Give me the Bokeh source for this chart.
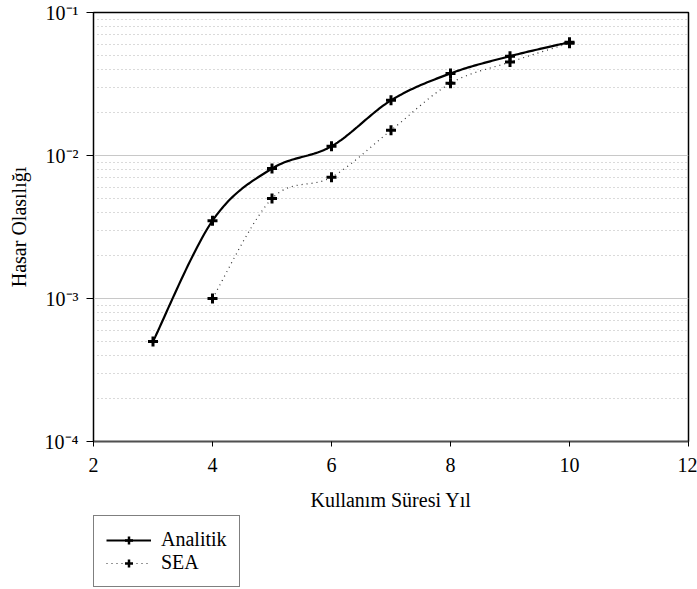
import numpy as np
from bokeh.plotting import figure
from bokeh.layouts import column
from bokeh.models import FixedTicker, Legend, LegendItem, Range1d, CustomJSTickFormatter
from bokeh.embed import file_html
from bokeh.resources import INLINE

# ---- data ----
analitik_years = [3, 4, 5, 6, 7, 8, 9, 10]
analitik = [5.0e-4, 3.5e-3, 8.1e-3, 1.16e-2, 2.43e-2, 3.75e-2, 4.95e-2, 6.2e-2]
sea_years = [4, 5, 6, 7, 8, 9, 10]
sea = [1.0e-3, 5.0e-3, 7.05e-3, 1.5e-2, 3.2e-2, 4.5e-2, 6.1e-2]

x_ticks = [2, 4, 6, 8, 10, 12]
y_ticks = [1e-4, 1e-3, 1e-2, 1e-1]
y_tick_labels = ["10\u207b\u2074", "10\u207b\u00b3", "10\u207b\u00b2", "10\u207b\u00b9"]
y_minor = [k * 10.0 ** e for e in (-4, -3, -2) for k in range(2, 10)]

FONT = "Liberation Serif"


def smooth(xs, ys, n=30):
    """Excel-like smoothed line: Catmull-Rom Bezier in (x, log10 y) space."""
    X = np.asarray(xs, float)
    L = np.log10(np.asarray(ys, float))
    P = np.column_stack([X, L])
    out = []
    m = len(P)
    for i in range(m - 1):
        p0 = P[i - 1] if i > 0 else P[i]
        p1 = P[i]
        p2 = P[i + 1]
        p3 = P[i + 2] if i + 2 < m else P[i + 1]
        c1 = p1 + (p2 - p0) / 6.0
        c2 = p2 - (p3 - p1) / 6.0
        t = np.linspace(0, 1, n, endpoint=(i == m - 2))[:, None]
        seg = ((1 - t) ** 3) * p1 + 3 * ((1 - t) ** 2) * t * c1 + 3 * (1 - t) * t ** 2 * c2 + t ** 3 * p2
        out.append(seg)
    S = np.vstack(out)
    return S[:, 0], 10 ** S[:, 1]


p = figure(width=697, height=515, y_axis_type="log",
           x_range=Range1d(2, 12), y_range=Range1d(1e-4, 1e-1),
           output_backend="svg", toolbar_location=None,
           min_border_left=92, min_border_right=9, min_border_top=12, min_border_bottom=74)

p.outline_line_color = "black"
p.outline_line_width = 1.5
p.background_fill_color = "white"
p.border_fill_color = "white"

# grid
p.xgrid.visible = False
p.ygrid.grid_line_color = "#c8c8c8"
p.ygrid.grid_line_width = 1
p.ygrid.minor_grid_line_color = "#b4b4b4"
p.ygrid.minor_grid_line_dash = "1 3"
p.ygrid.minor_grid_line_width = 1

# axes
p.xaxis.ticker = FixedTicker(ticks=x_ticks)
p.yaxis.ticker = FixedTicker(ticks=y_ticks, minor_ticks=y_minor)
p.yaxis.formatter = CustomJSTickFormatter(args=dict(tvals=y_ticks, tlabels=y_tick_labels), code="""
    let best = 0, bd = 1e9;
    for (let i = 0; i < tvals.length; i++) {
        const d = Math.abs(Math.log10(tvals[i]) - Math.log10(tick));
        if (d < bd) { bd = d; best = i; }
    }
    return tlabels[best];
""")
for ax in (p.xaxis[0], p.yaxis[0]):
    ax.major_label_text_font = FONT
    ax.major_label_text_font_size = "20px"
    ax.major_label_text_color = "black"
    ax.axis_label_text_font = FONT
    ax.axis_label_text_font_size = "20px"
    ax.axis_label_text_font_style = "normal"
    ax.axis_label_text_color = "black"
    ax.minor_tick_line_color = None
    ax.major_tick_in = 0
    ax.axis_line_color = "black"
    ax.major_tick_line_color = "black"

p.xaxis.axis_label = "Kullanım Süresi Yıl"
p.yaxis.axis_label = "Hasar Olasılığı"
p.xaxis.major_tick_out = 5
p.xaxis.major_label_standoff = 11
p.xaxis.axis_label_standoff = 14
p.xaxis.axis_line_color = "#505050"
p.xaxis.axis_line_width = 1.5
p.yaxis.major_tick_out = 7
p.yaxis.major_label_standoff = 8
p.yaxis.axis_label_standoff = 12

# series
ax_s, ay_s = smooth(analitik_years, analitik)
sx_s, sy_s = smooth(sea_years, sea)

A_LINE = dict(line_color="black", line_width=2.2)
S_LINE = dict(line_color="#333333", line_width=1.2, line_dash="1 4")
MARK = dict(marker="cross", size=10, line_width=3, line_color="black")

p.line(ax_s, ay_s, **A_LINE)
p.scatter(analitik_years, analitik, **MARK)
p.line(sx_s, sy_s, **S_LINE)
p.scatter(sea_years, sea, **MARK)

# ---- legend strip below the chart ----
lg = figure(width=697, height=74, x_range=Range1d(0, 1), y_range=Range1d(0, 1),
            output_backend="svg", toolbar_location=None,
            x_axis_location=None, y_axis_location=None,
            min_border_left=93, min_border_right=0, min_border_top=0, min_border_bottom=0)
lg.grid.visible = False
lg.outline_line_color = None
lg.background_fill_color = "white"
lg.border_fill_color = "white"
nan = [float("nan")]
la = [lg.line(nan, nan, **A_LINE), lg.scatter(nan, nan, marker="cross", size=7, line_width=2.5, line_color="black")]
ls = [lg.line(nan, nan, **S_LINE), lg.scatter(nan, nan, marker="cross", size=7, line_width=2.5, line_color="black")]

legend = Legend(items=[LegendItem(label="Analitik", renderers=la),
                       LegendItem(label="SEA", renderers=ls)],
                location="top_left")
legend.border_line_color = "black"
legend.border_line_width = 1
legend.background_fill_alpha = 1
legend.label_text_font = FONT
legend.label_text_font_size = "20px"
legend.label_text_color = "black"
legend.glyph_width = 45
legend.glyph_height = 20
legend.label_standoff = 10
legend.spacing = 0
legend.padding = 12
legend.margin = 0
lg.add_layout(legend)

layout = column(p, lg, spacing=0)
open("out.html", "w").write(file_html(layout, INLINE))
